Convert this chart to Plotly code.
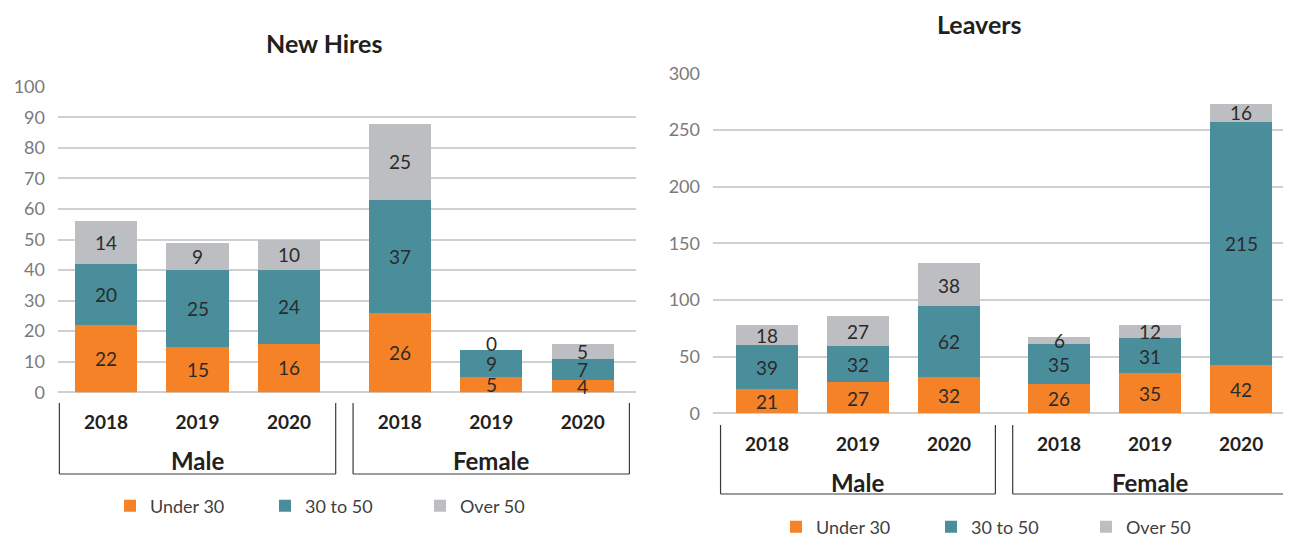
import plotly.graph_objects as go

# ---------------- data ----------------
years = ["2018", "2019", "2020"]
genders = ["Male", "Female"]
series = ["Under 30", "30 to 50", "Over 50"]
colors = ["#F58226", "#4A8E9C", "#BDBEC2"]

hires_under30 = [22, 15, 16, 26, 5, 4]
hires_30to50 = [20, 25, 24, 37, 9, 7]
hires_over50 = [14, 9, 10, 25, 0, 5]

leavers_under30 = [21, 27, 32, 26, 35, 42]
leavers_30to50 = [39, 32, 62, 35, 31, 215]
leavers_over50 = [18, 27, 38, 6, 12, 16]

# ---------------- layout helpers ----------------
W, H = 1291, 535
OFF = 8  # page body margin offset
FONT = "Lato, 'Open Sans', sans-serif"
GAP = 0.21
pos = [g * (len(years) + GAP) + i for g in range(len(genders)) for i in range(len(years))]
BAR_W = 0.68


def px(pix):
    return (pix - OFF) / W


def py(pix):
    return (H - (pix - OFF)) / H


charts = [
    dict(name="New Hires", data=[hires_under30, hires_30to50, hires_over50],
         xa="x", ya="y", legend="legend",
         xdom=[px(58), px(636)], ydom=[py(392.3), py(86.7)],
         xrange=[-0.525, 5.792], yrange=[0, 100], dtick=10,
         title_x=px(324), title_y=py(43), bracket=(py(403), py(474)), group_y=py(461), standoff=17),
    dict(name="Leavers", data=[leavers_under30, leavers_30to50, leavers_over50],
         xa="x2", ya="y2", legend="legend2",
         xdom=[px(713), px(1291)], ydom=[py(413.3), py(73.3)],
         xrange=[-0.593, 5.758], yrange=[0, 300], dtick=50,
         title_x=px(980), title_y=py(24), bracket=(py(425), py(494)), group_y=py(482), standoff=18),
]

fig = go.Figure()
annotations = []
shapes = []

for c in charts:
    cum = [0] * len(pos)
    for s_name, vals, col in zip(series, c["data"], colors):
        fig.add_trace(go.Bar(
            x=pos, y=vals, width=BAR_W, name=s_name,
            marker=dict(color=col, line=dict(width=0)),
            xaxis=c["xa"], yaxis=c["ya"], legend=c["legend"],
            hoverinfo="y+name",
        ))
        for xi, v, base in zip(pos, vals, cum):
            annotations.append(dict(
                x=xi, y=base + v / 2, xref=c["xa"], yref=c["ya"],
                text=str(v), showarrow=False, xanchor="center", yanchor="middle",
                yshift=6 if v == 0 else 0,
                font=dict(family=FONT, size=19, color="#2b2b2b"),
            ))
        cum = [a + b for a, b in zip(cum, vals)]

    # title
    annotations.append(dict(
        x=c["title_x"], y=c["title_y"], xanchor="center", yanchor="middle",
        xref="paper", yref="paper", text="<b>%s</b>" % c["name"], showarrow=False,
        font=dict(family=FONT, size=25, color="#231f20"),
    ))

    # group brackets and labels
    top, bot = c["bracket"]
    n = len(years)
    for g, gname in enumerate(genders):
        gpos = pos[g * n:(g + 1) * n]
        x0, x1 = gpos[0] - 0.51, gpos[-1] + 0.51
        xr = c["xa"]
        shapes.append(dict(type="line", xref=xr, yref="paper", x0=x0, x1=x0, y0=top, y1=bot,
                           line=dict(color="#3a3a3a", width=1.2)))
        shapes.append(dict(type="line", xref=xr, yref="paper", x0=x1, x1=x1, y0=top, y1=bot,
                           line=dict(color="#3a3a3a", width=1.2)))
        shapes.append(dict(type="line", xref=xr, yref="paper", x0=x0, x1=x1, y0=bot, y1=bot,
                           line=dict(color="#3a3a3a", width=1.2)))
        annotations.append(dict(
            x=sum(gpos) / len(gpos), y=c["group_y"], xref=xr, yref="paper",
            text="<b>%s</b>" % gname, showarrow=False, xanchor="center", yanchor="middle",
            font=dict(family=FONT, size=24, color="#231f20"),
        ))

layout = dict(
    width=W, height=H, margin=dict(l=0, r=0, t=0, b=0, autoexpand=False),
    paper_bgcolor="white", plot_bgcolor="white",
    barmode="stack", bargap=0,
    font=dict(family=FONT),
    annotations=annotations, shapes=shapes,
    legend=dict(orientation="h", x=px(110), xanchor="left", y=py(506), yanchor="middle",
                entrywidth=110, entrywidthmode="pixels", traceorder="normal",
                font=dict(family=FONT, size=18, color="#3f3f3f"), bgcolor="rgba(0,0,0,0)"),
    legend2=dict(orientation="h", x=px(776), xanchor="left", y=py(527), yanchor="middle",
                 entrywidth=110, entrywidthmode="pixels", traceorder="normal",
                 font=dict(family=FONT, size=18, color="#3f3f3f"), bgcolor="rgba(0,0,0,0)"),
)

for c in charts:
    xkey = "xaxis" if c["xa"] == "x" else "xaxis2"
    ykey = "yaxis" if c["ya"] == "y" else "yaxis2"
    layout[xkey] = dict(
        domain=c["xdom"], range=c["xrange"], anchor=c["ya"],
        tickvals=pos, ticktext=years * len(genders),
        showgrid=False, zeroline=False, showline=False, ticks="",
        tickfont=dict(family=FONT, size=19, color="#231f20", weight="bold"),
        ticklabelstandoff=c["standoff"], fixedrange=True, automargin=False,
    )
    layout[ykey] = dict(
        domain=c["ydom"], range=c["yrange"], dtick=c["dtick"], anchor=c["xa"],
        showgrid=True, gridcolor="#D0D0D0", gridwidth=1.5,
        zeroline=True, zerolinecolor="#D0D0D0", zerolinewidth=1.5,
        showline=False, ticks="",
        tickfont=dict(family=FONT, size=18, color="#7a7a7a"),
        ticklabelstandoff=12, fixedrange=True, automargin=False,
    )

fig.update_layout(**layout)
fig.write_html("out.html")
